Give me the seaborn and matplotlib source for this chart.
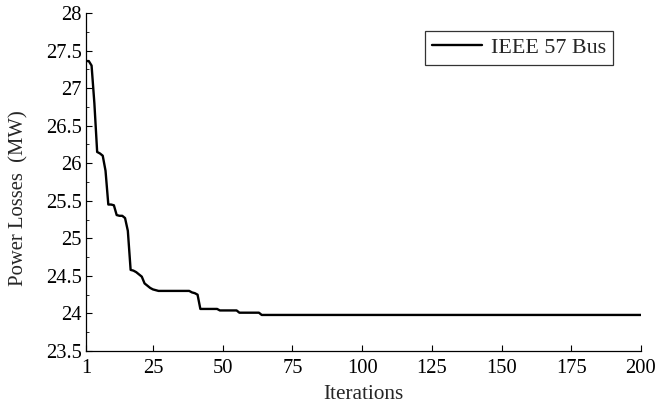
import numpy as np
import pandas as pd
import matplotlib
matplotlib.use("Agg")
import matplotlib.pyplot as plt
import seaborn as sns
from matplotlib.ticker import MultipleLocator

# Data (iteration, power loss in MW)
iterations = [1, 2, 3, 4, 5, 6, 7, 8, 9, 10, 11, 12, 13, 14, 15, 16, 17, 18, 19, 20,
              21, 22, 23, 24, 25, 26, 27, 38, 39, 40, 41, 42, 48, 49, 55, 56, 63, 64, 200]
losses = [27.36, 27.36, 27.30, 26.80, 26.15, 26.13, 26.10, 25.90, 25.45, 25.45,
          25.44, 25.31, 25.30, 25.30, 25.27, 25.10, 24.58, 24.57, 24.55, 24.52,
          24.49, 24.40, 24.37, 24.34, 24.32, 24.31, 24.30, 24.30, 24.28, 24.27,
          24.25, 24.06, 24.06, 24.04, 24.04, 24.01, 24.01, 23.98, 23.98]
series_name = "IEEE 57 Bus"
x_ticks = [1, 25, 50, 75, 100, 125, 150, 175, 200]
y_ticks = [23.5, 24, 24.5, 25, 25.5, 26, 26.5, 27, 27.5, 28]

df = pd.DataFrame({"Iterations": iterations, "Loss": losses, "Series": series_name})

sns.set_theme(style="ticks")
plt.rcParams["font.family"] = ["Liberation Serif", "DejaVu Serif"]

fig = plt.figure(figsize=(6.59, 4.05), dpi=100)
ax = fig.add_axes([86/659, 54/405, 555/659, 338/405])

sns.lineplot(data=df, x="Iterations", y="Loss", hue="Series", palette=["black"],
             linewidth=1.7, ax=ax)

ax.set_xlim(1, 200)
ax.set_ylim(23.5, 28)
ax.set_xticks(x_ticks)
ax.set_xticklabels([str(v) for v in x_ticks])
ax.set_yticks(y_ticks)
ax.set_yticklabels([f"{v:g}" for v in y_ticks])
ax.yaxis.set_minor_locator(MultipleLocator(0.25))

ax.tick_params(axis="both", which="major", direction="in", length=4.5, width=0.8,
               labelsize=14.8, colors="black")
ax.tick_params(axis="x", which="major", pad=5.5)
ax.tick_params(axis="y", which="major", pad=3)
ax.tick_params(axis="y", which="minor", direction="in", length=2, width=0.7)

for side in ["top", "right"]:
    ax.spines[side].set_visible(False)
for side in ["left", "bottom"]:
    ax.spines[side].set_color("black")
    ax.spines[side].set_linewidth(0.9)

ax.set_xlabel("Iterations", fontsize=15.3, labelpad=5)
ax.set_ylabel("Power Losses  (MW)", fontsize=14.9)
ax.yaxis.set_label_coords(-0.104, 0.4527)

leg = ax.legend(loc="upper right", bbox_to_anchor=(0.9495, 0.9467), fontsize=15.8,
                frameon=True, fancybox=False, handlelength=2.3, borderpad=0.3,
                handletextpad=0.4, borderaxespad=0)
leg.get_frame().set_edgecolor("black")
leg.get_frame().set_linewidth(0.9)
leg.set_title(None)

fig.savefig("out.png", dpi=100)
